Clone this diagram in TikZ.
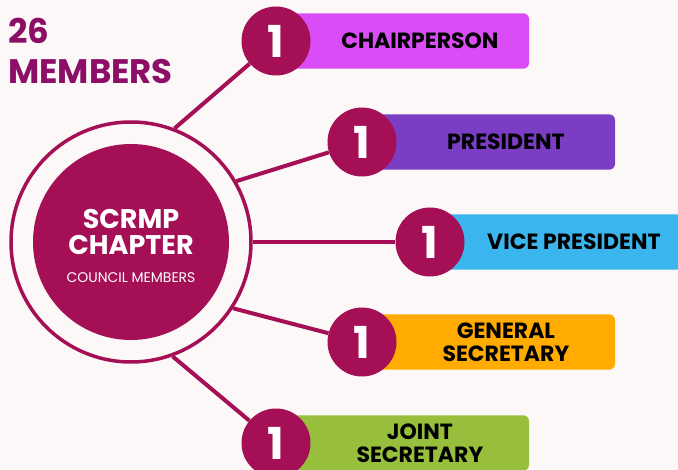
\documentclass[tikz,border=0pt]{standalone}
\usepackage{fontspec}
\setmainfont{Poppins}
\usetikzlibrary{positioning}
\pgfdeclarelayer{bg}
\pgfsetlayers{bg,main}
\definecolor{crimson}{HTML}{A50F56}
\definecolor{plum}{HTML}{8C0E66}
\definecolor{chaircol}{HTML}{DA4CF6}
\definecolor{prescol}{HTML}{7A3DC4}
\definecolor{vicecol}{HTML}{3BB5EE}
\definecolor{gencol}{HTML}{FFAB00}
\definecolor{jointcol}{HTML}{97BF3B}
\definecolor{paper}{HTML}{FBF8F7}

\begin{document}
\begin{tikzpicture}[x=1pt,y=-1pt,>=latex]
\tikzset{
    badge/.style={circle,fill=crimson,text=white,minimum size=69pt,inner sep=0pt,
      font=\bfseries\fontsize{44}{44}\selectfont},
    role/.style={minimum width=218pt,minimum height=55pt,inner sep=0pt,align=center,
      font=\bfseries\fontsize{22}{23}\selectfont},
    link/.style={draw=crimson,line width=4pt},
  }
\useasboundingbox (0,0) rectangle (678,470);
\clip (0,0) rectangle (678,470);

% hub
\node (ring) [circle,draw=crimson,line width=3.5pt,fill=paper,minimum size=240pt,inner sep=0pt] at (131,242) {};
\node (hub) [circle,fill=crimson,minimum size=196pt,inner sep=0pt] at (131,242) {};
\node (chapter) [text=white,align=center,font=\bfseries\fontsize{27}{26}\selectfont] at (131,232) {SCRMP\\CHAPTER};
\node (council) [text=white,font=\fontsize{14}{14}\selectfont] at (131,278) {COUNCIL MEMBERS};
\node (total) [anchor=north west,text=plum,align=left,inner sep=0pt,
  font=\bfseries\fontsize{34}{40}\selectfont] at (8,18) {26\\MEMBERS};

% badges
\node (chair_badge) [badge] at (276,41) {1};
\node (pres_badge) [badge] at (362,142) {1};
\node (vice_badge) [badge] at (430,242) {1};
\node (gen_badge) [badge] at (362,342) {1};
\node (joint_badge) [badge] at (276,443) {1};

% roles
\node (chair_role) [role,right=0pt of chair_badge] {CHAIRPERSON};
\node (pres_role) [role,right=0pt of pres_badge] {PRESIDENT};
\node (vice_role) [role,right=0pt of vice_badge] {VICE PRESIDENT};
\node (gen_role) [role,right=0pt of gen_badge] {GENERAL\\SECRETARY};
\node (joint_role) [role,right=0pt of joint_badge] {JOINT\\SECRETARY};

\begin{pgfonlayer}{bg}
\fill[paper] (0,0) rectangle (678,470);
\draw[link] (ring.69) -- (chair_badge);
\draw[link] (ring.30) -- (pres_badge);
\draw[link] (ring.0) -- (vice_badge);
\draw[link] (ring.-33) -- (gen_badge);
\draw[link] (ring.-70) -- (joint_badge);
\fill[chaircol,rounded corners=6pt] (chair_badge.center |- chair_role.north) rectangle (chair_role.south east);
\fill[prescol,rounded corners=6pt] (pres_badge.center |- pres_role.north) rectangle (pres_role.south east);
\fill[vicecol,rounded corners=6pt] (vice_badge.center |- vice_role.north) rectangle (vice_role.south east);
\fill[gencol,rounded corners=6pt] (gen_badge.center |- gen_role.north) rectangle (gen_role.south east);
\fill[jointcol,rounded corners=6pt] (joint_badge.center |- joint_role.north) rectangle (joint_role.south east);
\end{pgfonlayer}
\end{tikzpicture}
\end{document}
